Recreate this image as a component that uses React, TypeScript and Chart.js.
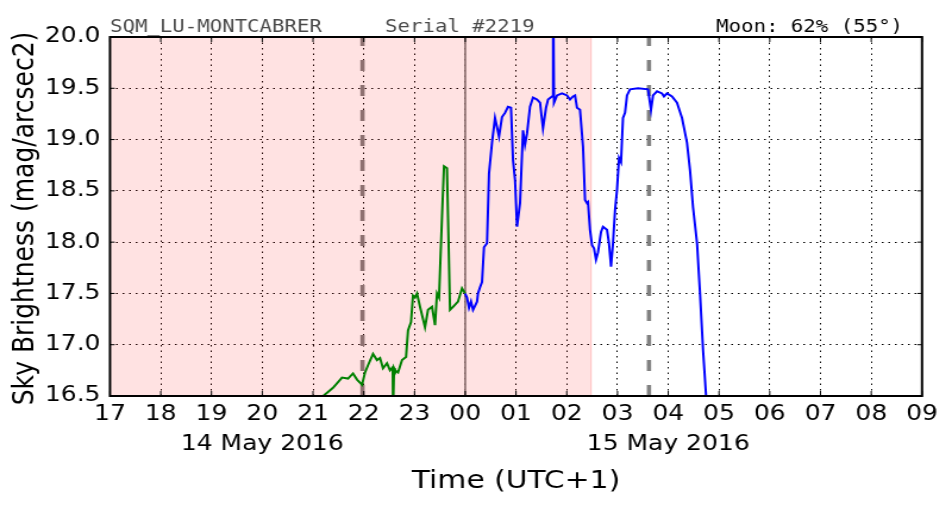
import React, { useEffect, useRef } from "react";
import { Chart, registerables } from "chart.js";

Chart.register(...registerables);

// ---------------- data ----------------
const greenHours = [
  21.15, 21.2, 21.394, 21.571, 21.69, 21.788, 21.867, 21.966, 22.025, 22.084, 22.182, 22.261, 22.32,
  22.379, 22.458, 22.517, 22.57, 22.577, 22.59, 22.597, 22.616, 22.675, 22.754, 22.833, 22.872, 22.931,
  22.97, 23.01, 23.049, 23.108, 23.207, 23.266, 23.345, 23.404, 23.443, 23.483, 23.542, 23.581, 23.64,
  23.66, 23.7, 23.759, 23.857, 23.936, 23.995,
];
const greenValues = [
  16.42, 16.5, 16.58, 16.68, 16.67, 16.72, 16.66, 16.61, 16.73, 16.8, 16.91, 16.85, 16.87,
  16.77, 16.82, 16.75, 16.78, 16.35, 16.35, 16.77, 16.75, 16.73, 16.85, 16.88, 17.14, 17.22,
  17.48, 17.46, 17.5, 17.37, 17.17, 17.34, 17.37, 17.19, 17.5, 17.46, 18.25, 18.74, 18.72,
  18.25, 17.34, 17.37, 17.42, 17.55, 17.5,
];

const blueHours = [
  23.995, 24.034, 24.074, 24.113, 24.153, 24.232, 24.251, 24.291, 24.33, 24.369, 24.429, 24.468, 24.527,
  24.586, 24.626, 24.665, 24.724, 24.783, 24.842, 24.901, 24.941, 24.98, 25.02, 25.079, 25.138, 25.177,
  25.217, 25.276, 25.335, 25.414, 25.473, 25.532, 25.591, 25.631, 25.709, 25.722, 25.727, 25.735, 25.749,
  25.808, 25.906, 26.005, 26.064, 26.123, 26.163, 26.202, 26.261, 26.32, 26.36, 26.399, 26.419, 26.458,
  26.498, 26.537, 26.576, 26.616, 26.675, 26.714, 26.793, 26.832, 26.872, 26.911, 26.951, 26.99, 27.03,
  27.069, 27.108, 27.148, 27.187, 27.246, 27.404, 27.601, 27.66, 27.7, 27.778, 27.877, 27.916, 27.975,
  28.074, 28.172, 28.271, 28.369, 28.429, 28.488, 28.567, 28.626, 28.685, 28.744, 28.783,
];
const blueValues = [
  17.5, 17.46, 17.36, 17.42, 17.34, 17.42, 17.5, 17.56, 17.61, 17.95, 17.99, 18.67, 18.97,
  19.21, 19.12, 19.03, 19.22, 19.26, 19.32, 19.31, 18.8, 18.61, 18.15, 18.38, 19.09, 18.95,
  19.06, 19.32, 19.41, 19.39, 19.36, 19.11, 19.31, 19.39, 19.42, 19.42, 20.6, 20.6, 19.36,
  19.43, 19.45, 19.43, 19.39, 19.42, 19.43, 19.31, 19.29, 18.93, 18.41, 18.38, 18.39, 18.12,
  17.97, 17.94, 17.83, 17.9, 18.1, 18.15, 18.12, 17.99, 17.76, 17.99, 18.31, 18.51, 18.82,
  18.78, 19.21, 19.26, 19.43, 19.49, 19.5, 19.49, 19.29, 19.43, 19.47, 19.45, 19.42, 19.45,
  19.42, 19.36, 19.21, 18.97, 18.7, 18.34, 17.99, 17.5, 16.95, 16.51, 16.27,
];

const xMin = 17;
const xMax = 33;
const yMin = 16.5;
const yMax = 20.0;
const yStep = 0.5;

const dateLabelHours = [20, 28];
const dateLabelTexts = ["14 May 2016", "15 May 2016"];

const twilightHours = [21.975, 27.62];
const midnightHour = 24;
const nightShadeEnd = 26.478;

const titleLeft = "SQM_LU-MONTCABRER";
const titleMid = "Serial #2219";
const titleRight = "Moon: 62% (55°)";
const xTitle = "Time (UTC+1)";
const yTitle = "Sky Brightness (mag/arcsec2)";

// ---------------- layout (canvas drawn at 800 wide, stretched to 952) ----------------
const CW = 800;
const CH = 512;
const SX = 952 / CW;

const overlayPlugin = {
  id: "overlayPlugin",
  beforeDatasetsDraw(chart: any) {
    const { ctx, chartArea: a } = chart;
    const x = chart.scales.x;
    ctx.save();
    ctx.beginPath();
    ctx.rect(a.left, a.top, a.right - a.left, a.bottom - a.top);
    ctx.clip();
    // dashed twilight lines
    ctx.strokeStyle = "#808080";
    ctx.lineWidth = 3.6;
    ctx.setLineDash([11, 14]);
    for (const h of twilightHours) {
      const px = x.getPixelForValue(h);
      ctx.beginPath();
      ctx.moveTo(px, a.bottom);
      ctx.lineTo(px, a.top);
      ctx.stroke();
    }
    ctx.setLineDash([]);
    // midnight line
    ctx.lineWidth = 1.7;
    const mx = x.getPixelForValue(midnightHour);
    ctx.beginPath();
    ctx.moveTo(mx, a.bottom);
    ctx.lineTo(mx, a.top);
    ctx.stroke();
    // night shade
    const ex = x.getPixelForValue(nightShadeEnd);
    ctx.fillStyle = "rgba(255,0,0,0.115)";
    ctx.fillRect(a.left, a.top, ex - a.left, a.bottom - a.top);
    ctx.strokeStyle = "rgba(255,0,0,0.16)";
    ctx.lineWidth = 1.3;
    ctx.beginPath();
    ctx.moveTo(ex, a.top);
    ctx.lineTo(ex, a.bottom);
    ctx.stroke();
    ctx.restore();
  },
  afterDraw(chart: any) {
    const { ctx, chartArea: a } = chart;
    const x = chart.scales.x;
    const y = chart.scales.y;
    ctx.save();
    // inward ticks
    ctx.strokeStyle = "#000";
    ctx.lineWidth = 1;
    for (const t of x.ticks) {
      const px = x.getPixelForValue(t.value);
      ctx.beginPath();
      ctx.moveTo(px, a.bottom);
      ctx.lineTo(px, a.bottom - 5);
      ctx.moveTo(px, a.top);
      ctx.lineTo(px, a.top + 5);
      ctx.stroke();
    }
    for (const t of y.ticks) {
      const py = y.getPixelForValue(t.value);
      ctx.beginPath();
      ctx.moveTo(a.left, py);
      ctx.lineTo(a.left + 4, py);
      ctx.moveTo(a.right, py);
      ctx.lineTo(a.right - 4, py);
      ctx.stroke();
    }
    // frame
    ctx.lineWidth = 2;
    ctx.strokeRect(a.left, a.top, a.right - a.left, a.bottom - a.top);

    // header texts
    ctx.font = '17.4px "DejaVu Sans Mono", monospace';
    ctx.textBaseline = "alphabetic";
    ctx.fillStyle = "#4a4a4a";
    ctx.textAlign = "left";
    ctx.fillText(titleLeft, a.left, 32);
    ctx.fillText(titleMid, 385 / SX, 32);
    ctx.fillStyle = "#000";
    ctx.textAlign = "right";
    ctx.fillText(titleRight, 903 / SX, 32);

    // axis titles
    ctx.fillStyle = "#000";
    ctx.font = '25px "DejaVu Sans", sans-serif';
    ctx.textAlign = "center";
    ctx.textBaseline = "middle";
    ctx.fillText(xTitle, (a.left + a.right) / 2, 481);
    ctx.save();
    ctx.translate(25 / SX, (a.top + a.bottom) / 2 + 2);
    ctx.rotate(-Math.PI / 2);
    ctx.fillText(yTitle, 0, 0);
    ctx.restore();
    ctx.restore();
  },
};

function hourLabel(v: number): string | string[] {
  const h = ((Math.round(v) % 24) + 24) % 24;
  const s = String(h).padStart(2, "0");
  const idx = dateLabelHours.indexOf(Math.round(v));
  if (idx >= 0) return [s, dateLabelTexts[idx]];
  return s;
}

export default function App() {
  const ref = useRef<HTMLCanvasElement | null>(null);

  useEffect(() => {
    document.body.style.margin = "0";
    const canvas = ref.current;
    if (!canvas) return;
    const tickFont = { family: "DejaVu Sans", size: 21 };
    const chart = new Chart(canvas, {
      type: "line",
      data: {
        datasets: [
          {
            data: greenHours.map((h, i) => ({ x: h, y: greenValues[i] })),
            borderColor: "#008000",
            borderWidth: 2,
            pointRadius: 0,
            tension: 0,
            clip: 0,
          },
          {
            data: blueHours.map((h, i) => ({ x: h, y: blueValues[i] })),
            borderColor: "#0000ff",
            borderWidth: 2,
            pointRadius: 0,
            tension: 0,
            clip: 0,
          },
        ],
      },
      options: {
        animation: false,
        responsive: false,
        devicePixelRatio: 1,
        events: [],
        layout: { padding: { top: 37, right: CW - 922 / SX, left: 0, bottom: 0 } },
        plugins: { legend: { display: false }, tooltip: { enabled: false }, title: { display: false } },
        scales: {
          x: {
            type: "linear",
            min: xMin,
            max: xMax,
            afterFit: (s: any) => {
              s.height = CH - 396;
            },
            ticks: {
              stepSize: 1,
              autoSkip: false,
              maxRotation: 0,
              minRotation: 0,
              color: "#000",
              font: { ...tickFont, lineHeight: 1.42 },
              padding: 4,
              callback: (v: any) => hourLabel(Number(v)),
            },
            grid: { color: "#000", lineWidth: 1, drawTicks: false },
            border: { display: false, dash: [1.5, 4] },
          },
          y: {
            type: "linear",
            min: yMin,
            max: yMax,
            afterFit: (s: any) => {
              s.width = 110 / SX;
            },
            ticks: {
              stepSize: yStep,
              color: "#000",
              font: tickFont,
              padding: 8,
              callback: (v: any) => Number(v).toFixed(1),
            },
            grid: { color: "#000", lineWidth: 1, drawTicks: false },
            border: { display: false, dash: [1.5, 4] },
          },
        },
      },
      plugins: [overlayPlugin],
    } as any);
    return () => chart.destroy();
  }, []);

  return (
    <canvas
      ref={ref}
      width={CW}
      height={CH}
      style={{ width: "952px", height: "512px", display: "block" }}
    />
  );
}
